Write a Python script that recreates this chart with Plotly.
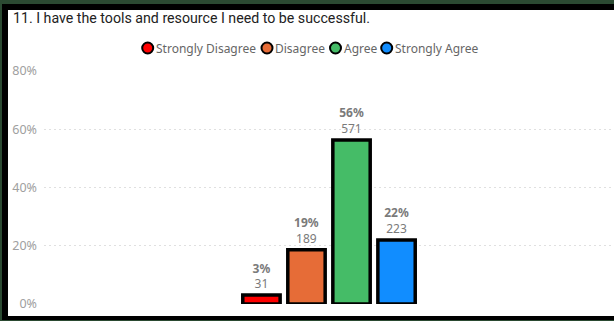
import plotly.graph_objects as go

# ---- data ----
categories = ["Strongly Disagree", "Disagree", "Agree", "Strongly Agree"]
counts = [31, 189, 571, 223]
colors = ["#FF0000", "#E66C37", "#45BC67", "#118DFF"]
y_ticks = [0, 0.2, 0.4, 0.6, 0.8]
title_text = "11. I have the tools and resource I need to be successful."

total = sum(counts)
shares = [c / total for c in counts]

# ---- layout geometry (pixels) ----
W, H = 614, 321
ML, MR, MT, MB = 44, 0, 71, 17
PW, PH = W - ML - MR, H - MT - MB


def px_x(px):
    return (px - ML) / PW


def px_y(py):
    return (H - MB - py) / PH


FONT = "Noto Sans, Open Sans, sans-serif"

fig = go.Figure()
for name, s, c, col in zip(categories, shares, counts, colors):
    fig.add_trace(go.Bar(
        x=["Q11"], y=[s], name=name,
        marker=dict(color=col, line=dict(color="#000000", width=3.5)),
        text=[f"<b>{s:.0%}</b><br>{c}"],
        textposition="outside",
        textfont=dict(color="#7a7a7a", size=12, family=FONT),
        cliponaxis=False,
        showlegend=False,
    ))

shapes = [
    # black frame
    dict(type="rect", xref="paper", yref="paper", layer="below",
         x0=px_x(2), x1=px_x(640), y0=px_y(320), y1=px_y(4),
         fillcolor="#000000", line=dict(width=0)),
    # white panel
    dict(type="rect", xref="paper", yref="paper", layer="below",
         x0=px_x(8), x1=px_x(640), y0=px_y(316), y1=px_y(10),
         fillcolor="#FFFFFF", line=dict(width=0)),
]

annotations = []
legend_circle_x = [147.7, 267, 335.5, 386.7]
legend_text_x = [154, 273, 341.5, 393]
legend_y = 48
for name, col, cx, tx in zip(categories, colors, legend_circle_x, legend_text_x):
    shapes.append(dict(
        type="circle", xref="paper", yref="paper",
        xsizemode="pixel", ysizemode="pixel",
        xanchor=px_x(cx), yanchor=px_y(legend_y),
        x0=-5.5, x1=5.5, y0=-5.5, y1=5.5,
        fillcolor=col, line=dict(color="#000000", width=2),
    ))
    annotations.append(dict(
        text=name, xref="paper", yref="paper",
        x=px_x(tx), y=px_y(legend_y), xanchor="left", yanchor="middle",
        showarrow=False,
        font=dict(size=12, color="#666666", family=FONT),
    ))

fig.update_layout(
    width=W, height=H,
    margin=dict(l=ML, r=MR, t=MT, b=MB, pad=0),
    paper_bgcolor="#2B4A32",
    plot_bgcolor="rgba(0,0,0,0)",
    barmode="group",
    bargap=0.684,
    bargroupgap=0.17,
    showlegend=False,
    title=dict(
        text=title_text, xref="container", yref="container",
        x=13 / W, xanchor="left", y=1 - 18 / H, yanchor="middle",
        font=dict(size=14.2, color="#222222",
                  family="Roboto, Liberation Sans, sans-serif"),
    ),
    xaxis=dict(range=[-0.5, 0.5], showticklabels=False, showgrid=False,
               zeroline=False, showline=False, fixedrange=True),
    yaxis=dict(range=[0, 0.8], tickvals=y_ticks, tickformat=".0%",
               showgrid=True, gridcolor="#E0E0E0", griddash="2px,3px", gridwidth=1,
               zeroline=False, showline=False, ticks="",
               ticklabelstandoff=6,
               tickfont=dict(size=12.5, color="#A0A0A0", family=FONT)),
    shapes=shapes,
    annotations=annotations,
)

fig.write_html("out.html",
               config={"displayModeBar": False},
               post_script="document.body.style.margin='0';document.body.style.overflow='hidden';")
